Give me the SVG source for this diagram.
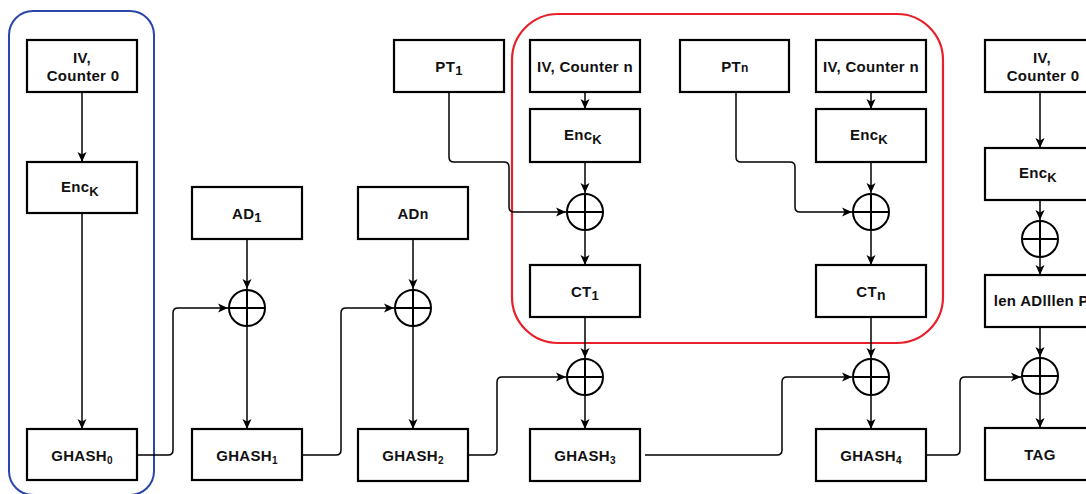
<svg xmlns="http://www.w3.org/2000/svg" width="1086" height="494" viewBox="0 0 1086 494">
<defs>
<marker id="arr" markerWidth="12" markerHeight="10" refX="10" refY="5" orient="auto" markerUnits="userSpaceOnUse">
<path d="M0,0.5 L10,5 L0,9.5 L2.5,5 Z" fill="#000"/>
</marker>
<style>
.box{fill:#fff;stroke:#000;stroke-width:2.2}
.t{font-family:"Liberation Sans",Arial,sans-serif;font-weight:bold;font-size:15px;letter-spacing:0.3px;text-anchor:middle;fill:#111}
.s{font-size:10px}
.c{fill:none;stroke:#000;stroke-width:2}
.ca{fill:none;stroke:#000;stroke-width:1.5;marker-end:url(#arr)}
.x{fill:#fff;stroke:#000;stroke-width:2}
</style>
</defs>
<rect id="group-blue" x="9" y="11" width="145" height="484" rx="24" fill="none" stroke="#2a46a8" stroke-width="2"/>
<rect id="group-red" x="512" y="14" width="431" height="329" rx="46" fill="none" stroke="#e8202a" stroke-width="2.2"/>

<g id="connectors">
<path class="ca" d="M82,92 V162"/>
<path class="ca" d="M82,213 V429"/>
<path class="ca" d="M137,455 H168 Q173,455 173,450 V313 Q173,308 178,308 H228"/>
<path class="ca" d="M247,239 V289"/>
<path class="ca" d="M247,327 V429"/>
<path class="ca" d="M302,455 H336 Q341,455 341,450 V313 Q341,308 346,308 H394"/>
<path class="ca" d="M413,239 V289"/>
<path class="ca" d="M413,327 V429"/>
<path class="ca" d="M468,455 H492 Q497,455 497,450 V382 Q497,377 502,377 H566"/>
<path class="ca" d="M449,92 V157 Q449,162 454,162 H504 Q509,162 509,167 V207 Q509,212 514,212 H566"/>
<path class="ca" d="M585,92 V109"/>
<path class="ca" d="M585,162 V193"/>
<path class="ca" d="M585,231 V265"/>
<path class="ca" d="M585,317 V358"/>
<path class="ca" d="M585,396 V429"/>
<path class="ca" d="M645,455 H777 Q782,455 782,450 V382 Q782,377 787,377 H852"/>
<path class="ca" d="M736,92 V157 Q736,162 741,162 H790 Q795,162 795,167 V207 Q795,212 800,212 H852"/>
<path class="ca" d="M871,92 V109"/>
<path class="ca" d="M871,162 V193"/>
<path class="ca" d="M871,231 V265"/>
<path class="ca" d="M871,317 V358"/>
<path class="ca" d="M871,396 V429"/>
<path class="ca" d="M926,455 H955 Q960,455 960,450 V382 Q960,377 965,377 H1021"/>
<path class="ca" d="M1040,92 V148"/>
<path class="ca" d="M1040,200 V220"/>
<path class="ca" d="M1040,258 V275"/>
<path class="ca" d="M1040,327 V357"/>
<path class="ca" d="M1040,395 V428"/>
</g>

<g id="iv0-left"><rect class="box" x="27" y="40" width="110" height="52"/><text class="t" x="82" y="63">IV,</text><text class="t" x="83" y="81">Counter 0</text></g>
<g id="enc-left"><rect class="box" x="27" y="162" width="110" height="51"/><text class="t" x="80" y="192">Enc<tspan font-size="13" dy="4">K</tspan></text></g>
<g id="ghash0"><rect class="box" x="27" y="429" width="110" height="51"/><text class="t" x="82" y="461">GHASH<tspan class="s" dy="3">0</tspan></text></g>

<g id="ad1"><rect class="box" x="192" y="187" width="110" height="52"/><text class="t" x="247" y="219">AD<tspan font-size="13" dy="3">1</tspan></text></g>
<g id="xor1"><circle class="x" cx="247" cy="308" r="18"/><path class="c" d="M229,308 H265 M247,290 V326"/></g>
<g id="ghash1"><rect class="box" x="192" y="429" width="110" height="51"/><text class="t" x="247" y="461">GHASH<tspan class="s" dy="3">1</tspan></text></g>

<g id="adn"><rect class="box" x="358" y="187" width="110" height="52"/><text class="t" x="413" y="219">AD<tspan font-size="14">n</tspan></text></g>
<g id="xor2"><circle class="x" cx="413" cy="308" r="18"/><path class="c" d="M395,308 H431 M413,290 V326"/></g>
<g id="ghash2"><rect class="box" x="358" y="429" width="110" height="52"/><text class="t" x="413" y="461">GHASH<tspan class="s" dy="3">2</tspan></text></g>

<g id="pt1"><rect class="box" x="394" y="40" width="110" height="52"/><text class="t" x="449" y="72">PT<tspan font-size="13" dy="3">1</tspan></text></g>
<g id="ivn1"><rect class="box" x="530" y="40" width="110" height="52"/><text class="t" x="585" y="72">IV, Counter n</text></g>
<g id="enc1"><rect class="box" x="530" y="109" width="110" height="53"/><text class="t" x="583" y="140">Enc<tspan font-size="13" dy="4">K</tspan></text></g>
<g id="xor3"><circle class="x" cx="585" cy="212" r="18"/><path class="c" d="M567,212 H603 M585,194 V230"/></g>
<g id="ct1"><rect class="box" x="530" y="265" width="110" height="52"/><text class="t" x="585" y="297">CT<tspan font-size="13" dy="3">1</tspan></text></g>
<g id="xor4"><circle class="x" cx="585" cy="377" r="18"/><path class="c" d="M567,377 H603 M585,359 V395"/></g>
<g id="ghash3"><rect class="box" x="530" y="429" width="110" height="52"/><text class="t" x="585" y="461">GHASH<tspan class="s" dy="3">3</tspan></text></g>

<g id="ptn"><rect class="box" x="680" y="40" width="109" height="52"/><text class="t" x="735" y="72">PT<tspan font-size="12">n</tspan></text></g>
<g id="ivn2"><rect class="box" x="816" y="40" width="110" height="52"/><text class="t" x="871" y="72">IV, Counter n</text></g>
<g id="enc2"><rect class="box" x="816" y="109" width="110" height="53"/><text class="t" x="869" y="140">Enc<tspan font-size="13" dy="4">K</tspan></text></g>
<g id="xor5"><circle class="x" cx="871" cy="212" r="18"/><path class="c" d="M853,212 H889 M871,194 V230"/></g>
<g id="ctn"><rect class="box" x="816" y="265" width="110" height="52"/><text class="t" x="871" y="297">CT<tspan font-size="14" dy="3">n</tspan></text></g>
<g id="xor6"><circle class="x" cx="871" cy="377" r="18"/><path class="c" d="M853,377 H889 M871,359 V395"/></g>
<g id="ghash4"><rect class="box" x="816" y="429" width="110" height="52"/><text class="t" x="871" y="461">GHASH<tspan class="s" dy="3">4</tspan></text></g>

<g id="iv0-right"><rect class="box" x="985" y="40" width="110" height="52"/><text class="t" x="1042" y="63">IV,</text><text class="t" x="1043" y="81">Counter 0</text></g>
<g id="enc-right"><rect class="box" x="985" y="148" width="110" height="52"/><text class="t" x="1038" y="178">Enc<tspan font-size="13" dy="4">K</tspan></text></g>
<g id="xor7"><circle class="x" cx="1040" cy="239" r="18"/><path class="c" d="M1022,239 H1058 M1040,221 V257"/></g>
<g id="len"><rect class="box" x="985" y="275" width="110" height="52"/><text class="t" x="1046" y="306">len ADlllen PT</text></g>
<g id="xor8"><circle class="x" cx="1040" cy="376" r="18"/><path class="c" d="M1022,376 H1058 M1040,358 V394"/></g>
<g id="tag"><rect class="box" x="985" y="428" width="110" height="52"/><text class="t" x="1040" y="460">TAG</text></g>
</svg>
